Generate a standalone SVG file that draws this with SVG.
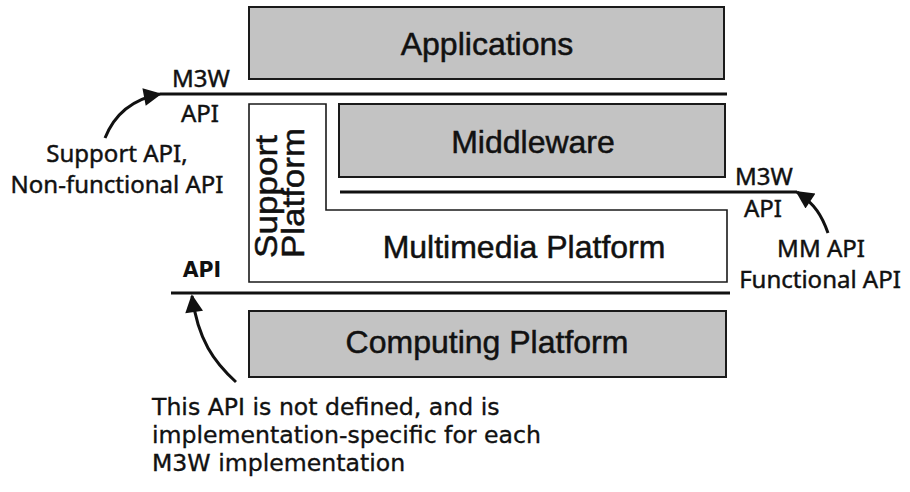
<svg xmlns="http://www.w3.org/2000/svg" width="910" height="492" viewBox="0 0 910 492">
  <style>
    .layer { fill: #c3c3c3; stroke: #1a1a1a; stroke-width: 2; }
    .open { fill: #ffffff; stroke: #1a1a1a; stroke-width: 1.6; }
    .title { font-family: "Liberation Sans", Arial, sans-serif; font-size: 32px; fill: #111; stroke: #111; stroke-width: 0.5; }
    .note { font-family: "Noto Sans", "DejaVu Sans", sans-serif; font-size: 24px; fill: #111; stroke: #111; stroke-width: 0.45; }
    .para { font-family: "DejaVu Sans", Verdana, sans-serif; font-size: 23.6px; fill: #111; stroke: #111; stroke-width: 0.35; }
    .bold { font-family: "DejaVu Sans", Verdana, sans-serif; font-size: 20.5px; font-weight: bold; fill: #111; }
    .api { stroke: #111; stroke-width: 3.2; fill: none; }
    .lead { stroke: #111; stroke-width: 3; fill: none; }
  </style>
  <defs>
    <marker id="head" viewBox="0 0 10 10" refX="9" refY="5" markerWidth="6.5" markerHeight="6" markerUnits="strokeWidth" orient="auto">
      <path d="M0,0 L10,5 L0,10 Z" fill="#111"/>
    </marker>
  </defs>

  <rect width="910" height="492" fill="#ffffff"/>

  <!-- Applications layer -->
  <g id="applications">
    <rect class="layer" x="249" y="7" width="475" height="72"/>
    <text class="title" x="487" y="55" text-anchor="middle">Applications</text>
  </g>

  <!-- Support + Multimedia platform outline (L shape) -->
  <g id="support-platform">
    <path class="open" d="M249,104 H326 V210 H727 V282 H249 Z"/>
    <text class="title" transform="translate(277,258) rotate(-90)" textLength="123" lengthAdjust="spacingAndGlyphs">Support</text>
    <text class="title" transform="translate(304,258) rotate(-90)" textLength="130" lengthAdjust="spacingAndGlyphs">Platform</text>
  </g>

  <g id="multimedia-platform">
    <text class="title" x="524" y="258" text-anchor="middle">Multimedia Platform</text>
  </g>

  <!-- Middleware layer -->
  <g id="middleware">
    <rect class="layer" x="339" y="104" width="386" height="73"/>
    <text class="title" x="533" y="153" text-anchor="middle">Middleware</text>
  </g>

  <!-- Computing platform layer -->
  <g id="computing-platform">
    <rect class="layer" x="249" y="311" width="477" height="66"/>
    <text class="title" x="487" y="353" text-anchor="middle">Computing Platform</text>
  </g>

  <!-- API boundaries and call-out leaders -->
  <g id="connectors">
    <line class="api" x1="160" y1="94" x2="727" y2="94"/>
    <line class="api" x1="340" y1="192" x2="797" y2="192"/>
    <line class="api" x1="171" y1="293" x2="730" y2="293"/>
    <path class="lead" d="M105,138 C113,118 128,100 160,94" marker-end="url(#head)"/>
    <path class="lead" d="M828,233 C822,216 815,204 797,192" marker-end="url(#head)"/>
    <path class="lead" d="M236,382 C214,362 198,340 192,296" marker-end="url(#head)"/>
  </g>

  <!-- API labels -->
  <g id="label-m3w-left">
    <text class="note" x="201" y="87" text-anchor="middle">M3W</text>
    <text class="note" x="200" y="122" text-anchor="middle">API</text>
  </g>
  <g id="label-support-api">
    <text class="note" x="117" y="162" text-anchor="middle">Support API,</text>
    <text class="note" x="117" y="193" text-anchor="middle">Non-functional API</text>
  </g>
  <g id="label-m3w-right">
    <text class="note" x="764" y="185" text-anchor="middle">M3W</text>
    <text class="note" x="763" y="217" text-anchor="middle">API</text>
  </g>
  <g id="label-mm-api">
    <text class="note" x="821" y="257" text-anchor="middle">MM API</text>
    <text class="note" x="820" y="288" text-anchor="middle">Functional API</text>
  </g>
  <g id="label-api">
    <text class="bold" x="202" y="277" text-anchor="middle">API</text>
  </g>
  <g id="label-undefined">
    <text class="para" x="152" y="415">This API is not defined, and is</text>
    <text class="para" x="152" y="443">implementation-specific for each</text>
    <text class="para" x="152" y="471">M3W implementation</text>
  </g>
</svg>
